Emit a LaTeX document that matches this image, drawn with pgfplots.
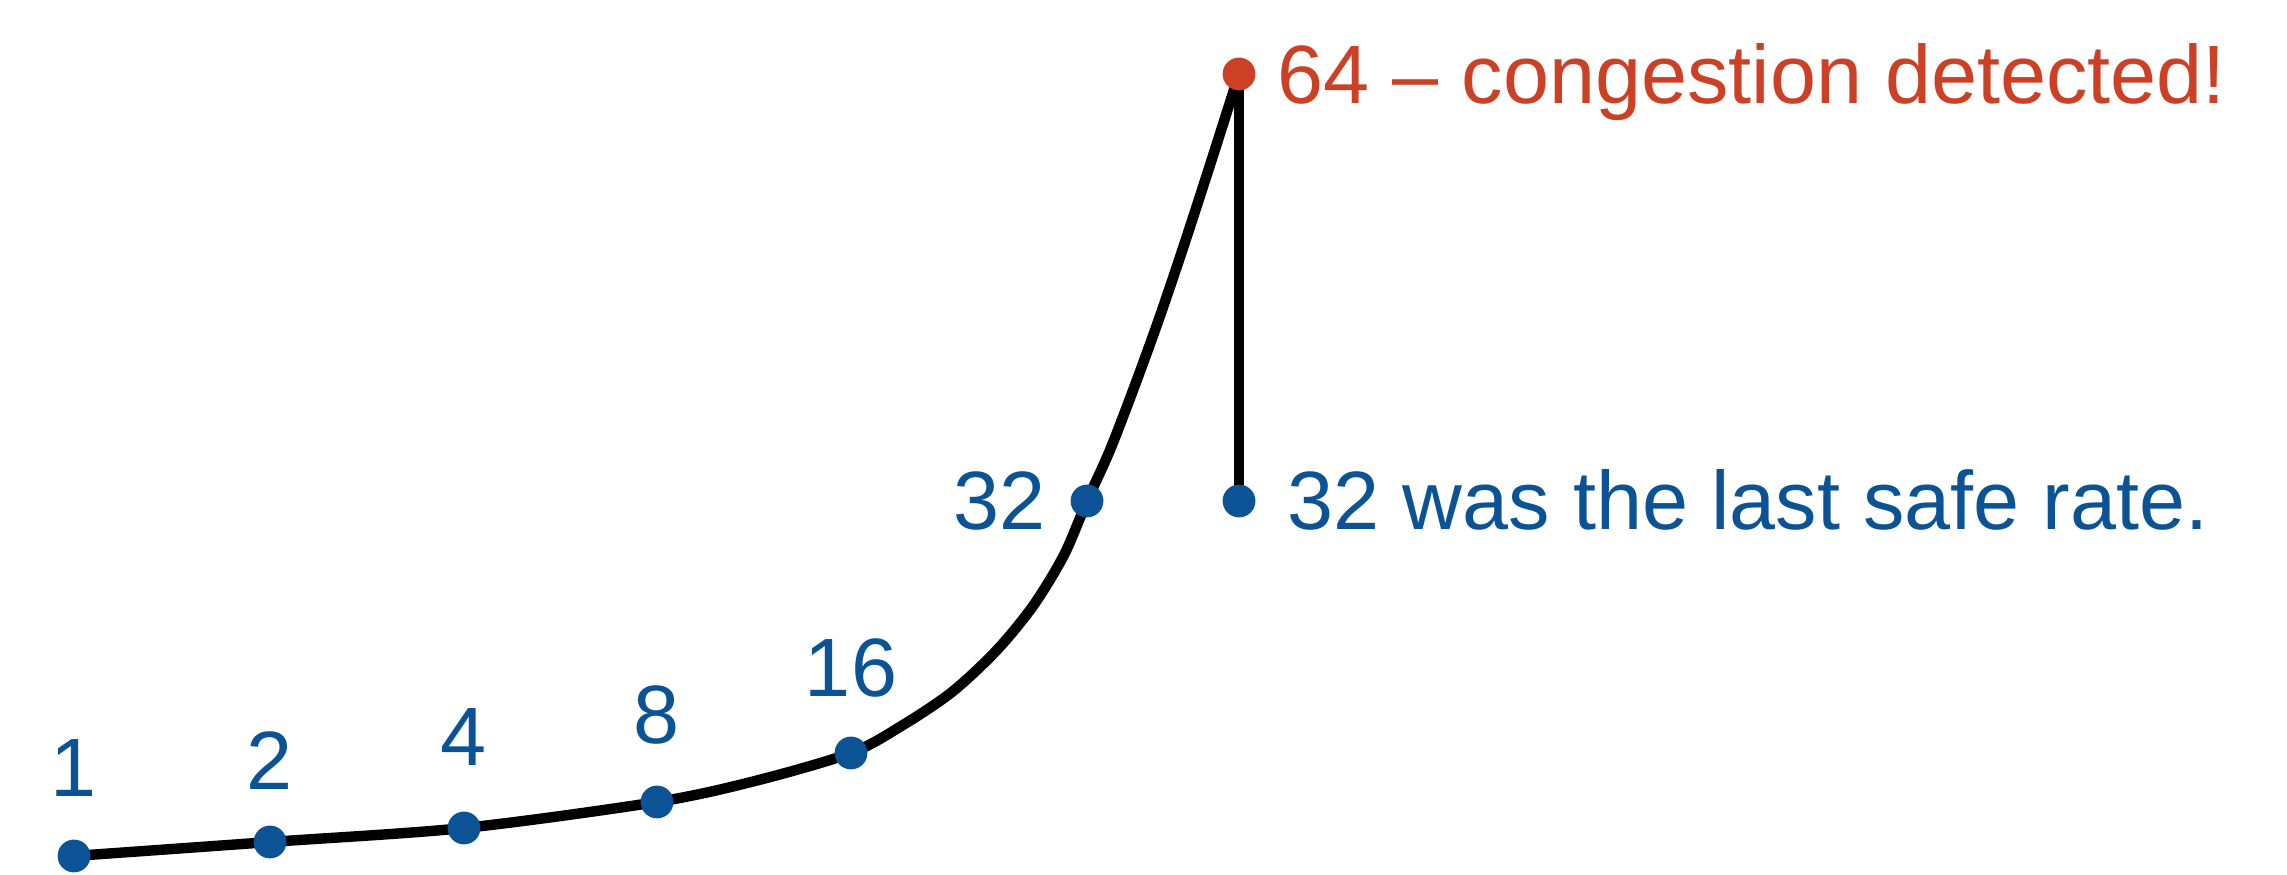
\documentclass[border=0pt]{standalone}
\usepackage{fontspec}
\setmainfont{Liberation Sans}
\usepackage{pgfplots}
\pgfplotsset{compat=1.18}
\definecolor{cblue}{HTML}{0B5394}
\definecolor{cred}{HTML}{CC4125}
\begin{document}
\begin{tikzpicture}
\begin{axis}[scale only axis, width=571.75pt, height=218.75pt, disabledatascaling,
  xmin=0, xmax=2287, ymin=0, ymax=875, hide axis, clip=false]
\path[draw=none] (rel axis cs:0,0) rectangle (rel axis cs:1,1);
% curve through the rate points (with points)
\addplot[black, line width=2.6pt, smooth, tension=0.5, no marks] coordinates {
(74,19) (270,33) (464,47) (657,73) (755,94) (851,122)
(903,150) (952,183) (996,224) (1033,269) (1064,320) (1087,374)
(1110,425) (1135,490) (1160,559) (1185,633) (1210,710) (1239,801)};
\addplot[black, line width=2.6pt, no marks] coordinates {(1239,801) (1239,388)};
\addplot[only marks, mark=*, mark size=3.9pt, cblue, mark options={fill=cblue, draw=none}] coordinates {(74,19) (270,33) (464,47) (657,73) (851,122) (1087,374) (1239,374)};
\addplot[only marks, mark=*, mark size=3.9pt, cred, mark options={fill=cred, draw=none}] coordinates {(1239,801)};
\begin{scope}[every node/.style={inner sep=0pt, font=\fontsize{20.7}{25}\selectfont}]
\node[anchor=base, text=cblue] at (axis cs:74,78) {1};
\node[anchor=base, text=cblue] at (axis cs:270,85) {2};
\node[anchor=base, text=cblue] at (axis cs:464,109) {4};
\node[anchor=base, text=cblue] at (axis cs:657,131) {8};
\node[anchor=base, text=cblue] at (axis cs:851,178) {16};
\node[anchor=base east, text=cblue] at (axis cs:1046,345) {32};
\node[anchor=base west, text=cblue] at (axis cs:1287,345) {32 was the last safe rate.};
\node[anchor=base west, text=cred] at (axis cs:1277,771) {64 -- congestion detected!};
\end{scope}
\end{axis}
\end{tikzpicture}
\end{document}
